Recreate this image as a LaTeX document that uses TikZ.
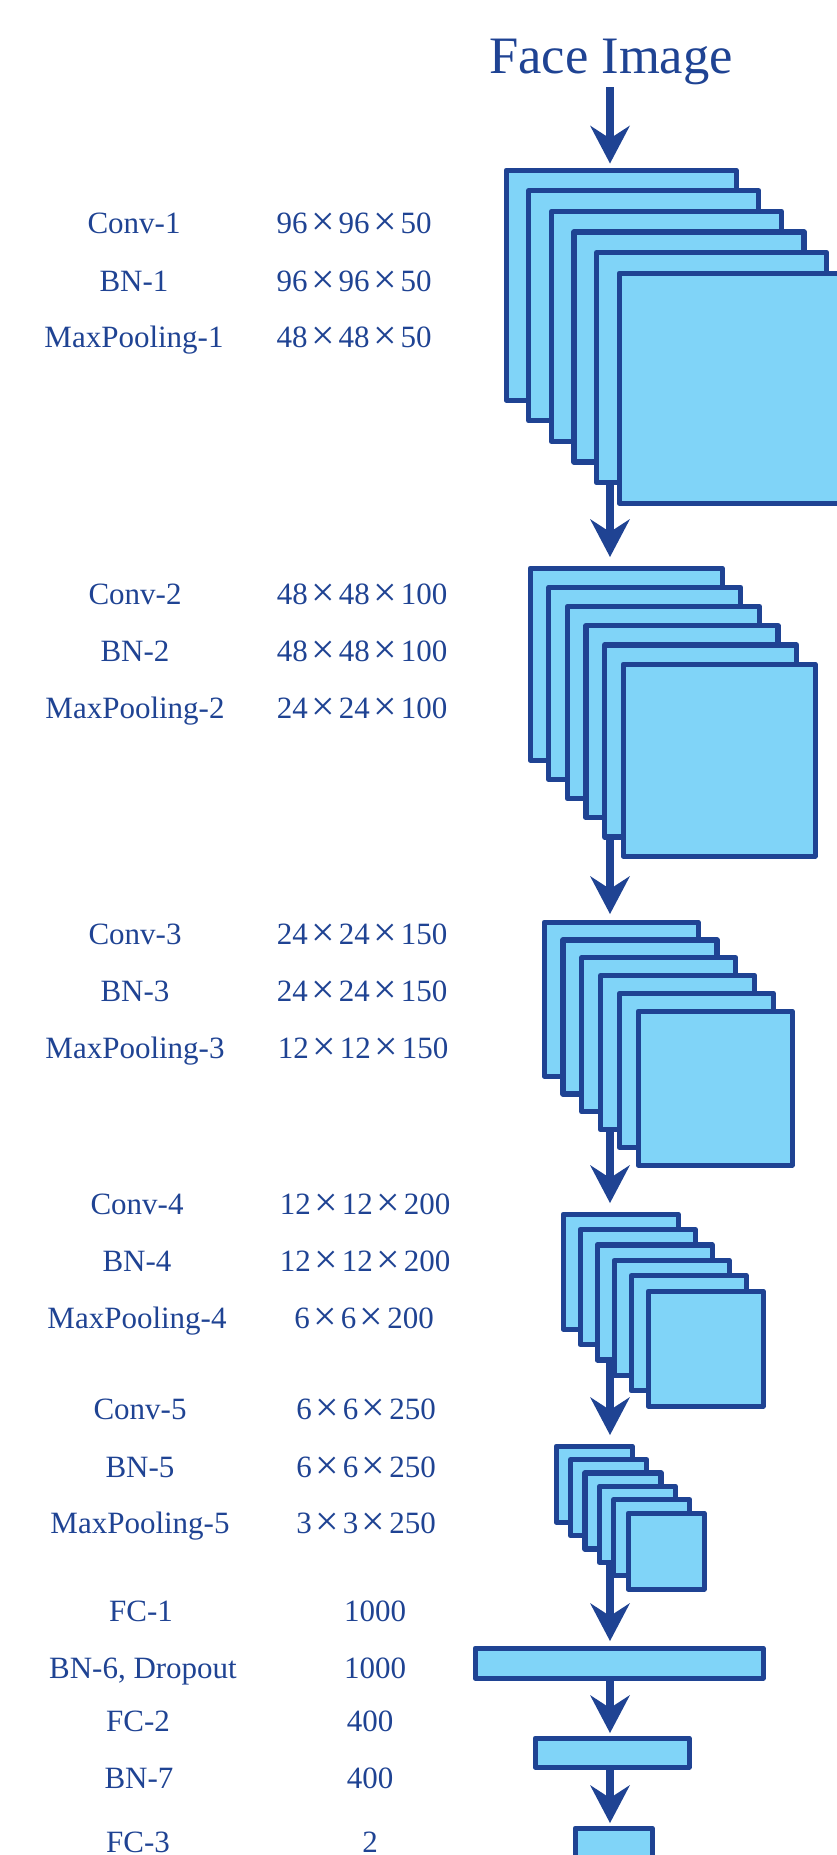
\documentclass[tikz,border=0pt]{standalone}
\usepackage{fontspec}
\usepackage{graphicx}
\setmainfont{Liberation Serif}
\usetikzlibrary{arrows.meta,backgrounds}
\definecolor{netblue}{RGB}{31,67,147}
\definecolor{mapfill}{RGB}{128,212,248}
% wide multiplication sign, centred on the digits, used in the tensor sizes
\newcommand{\crossx}{\makebox[1em]{\raisebox{0.09em}{$\vcenter{\hbox{\scalebox{1.35}{×}}}$}}}
\begin{document}
\begin{tikzpicture}[x=1pt,y=-1pt,
  fmap/.style={draw=netblue, fill=mapfill, line width=5.3pt, line join=round,
    inner sep=0pt, anchor=north west},
  lbl/.style={text=netblue, anchor=base, inner sep=0pt,
    font=\fontsize{31}{37}\selectfont},
  conn/.style={draw=netblue, line width=7.5pt,
    -{Stealth[length=38pt,width=40pt,inset=13pt,line width=0pt]}}]
\useasboundingbox (0,0) rectangle (837,1855);
\clip (0,0) rectangle (837,1855);

% title
\node[lbl, font=\fontsize{52.6}{60}\selectfont] (face) at (611,73) {Face Image};
\coordinate (spine) at (610,0);

% feature-map stacks
\foreach \i in {0,...,5}
  \node[fmap, minimum width=230pt, minimum height=230pt] (sA-\i)
    at ({503.5+22.6*\i},{167.5+20.6*\i}) {};
\foreach \i in {0,...,5}
  \node[fmap, minimum width=192pt, minimum height=192pt] (sB-\i)
    at ({527.5+18.6*\i},{565.5+19.2*\i}) {};
\foreach \i in {0,...,5}
  \node[fmap, minimum width=154pt, minimum height=154pt] (sC-\i)
    at ({541.5+18.8*\i},{919.5+17.8*\i}) {};
\foreach \i in {0,...,5}
  \node[fmap, minimum width=115pt, minimum height=115pt] (sD-\i)
    at ({560.5+17*\i},{1211.5+15.4*\i}) {};
\foreach \i in {0,...,5}
  \node[fmap, minimum width=76pt, minimum height=76pt] (sE-\i)
    at ({553.5+14.4*\i},{1443.5+13.4*\i}) {};

% fully connected layers
\node[fmap, minimum width=288pt, minimum height=30pt] (fc1) at (472.5,1645.5) {};
\node[fmap, minimum width=154pt, minimum height=29pt] (fc2) at (532.5,1735.5) {};
\node[fmap, minimum width=77pt, minimum height=40pt] (fc3) at (572.5,1825.5) {};

% data flow
\begin{scope}[on background layer]
  \draw[conn, shorten <=2.5pt, shorten >=4pt] (spine |- face.south) -- (spine |- sA-0.north);
  \draw[conn, shorten >=8.5pt] (spine |- sA-0.center) -- (spine |- sB-0.north);
  \draw[conn, shorten >=5.5pt] (spine |- sB-0.center) -- (spine |- sC-0.north);
  \draw[conn, shorten >=8.5pt] (spine |- sC-0.center) -- (spine |- sD-0.north);
  \draw[conn, shorten >=8.5pt] (spine |- sD-0.center) -- (spine |- sE-0.north);
  \draw[conn, shorten >=4.5pt] (spine |- sE-0.center) -- (spine |- fc1.north);
  \draw[conn, shorten >=2.5pt] (spine |- fc1.center) -- (spine |- fc2.north);
  \draw[conn, shorten >=2.5pt] (spine |- fc2.center) -- (spine |- fc3.north);
\end{scope}

% layer names and output sizes
\node[lbl] (n1a) at (134,233) {Conv-1};
\node[lbl] (n1b) at (134,291) {BN-1};
\node[lbl] (n1c) at (134,347) {MaxPooling-1};
\node[lbl] (d1a) at (354,233) {96\crossx 96\crossx 50};
\node[lbl] (d1b) at (354,291) {96\crossx 96\crossx 50};
\node[lbl] (d1c) at (354,347) {48\crossx 48\crossx 50};

\node[lbl] (n2a) at (135,604) {Conv-2};
\node[lbl] (n2b) at (135,661) {BN-2};
\node[lbl] (n2c) at (135,718) {MaxPooling-2};
\node[lbl] (d2a) at (362,604) {48\crossx 48\crossx 100};
\node[lbl] (d2b) at (362,661) {48\crossx 48\crossx 100};
\node[lbl] (d2c) at (362,718) {24\crossx 24\crossx 100};

\node[lbl] (n3a) at (135,944) {Conv-3};
\node[lbl] (n3b) at (135,1001) {BN-3};
\node[lbl] (n3c) at (135,1058) {MaxPooling-3};
\node[lbl] (d3a) at (362,944) {24\crossx 24\crossx 150};
\node[lbl] (d3b) at (362,1001) {24\crossx 24\crossx 150};
\node[lbl] (d3c) at (363,1058) {12\crossx 12\crossx 150};

\node[lbl] (n4a) at (137,1214) {Conv-4};
\node[lbl] (n4b) at (137,1271) {BN-4};
\node[lbl] (n4c) at (137,1328) {MaxPooling-4};
\node[lbl] (d4a) at (365,1214) {12\crossx 12\crossx 200};
\node[lbl] (d4b) at (365,1271) {12\crossx 12\crossx 200};
\node[lbl] (d4c) at (364,1328) {6\crossx 6\crossx 200};

\node[lbl] (n5a) at (140,1419) {Conv-5};
\node[lbl] (n5b) at (140,1477) {BN-5};
\node[lbl] (n5c) at (140,1533) {MaxPooling-5};
\node[lbl] (d5a) at (366,1419) {6\crossx 6\crossx 250};
\node[lbl] (d5b) at (366,1477) {6\crossx 6\crossx 250};
\node[lbl] (d5c) at (366,1533) {3\crossx 3\crossx 250};

\node[lbl] (n6a) at (141,1621) {FC-1};
\node[lbl] (n6b) at (143,1678) {BN-6, Dropout};
\node[lbl] (n6c) at (138,1731) {FC-2};
\node[lbl] (n6d) at (139,1788) {BN-7};
\node[lbl] (n6e) at (138,1852) {FC-3};
\node[lbl] (d6a) at (375,1621) {1000};
\node[lbl] (d6b) at (375,1678) {1000};
\node[lbl] (d6c) at (370,1731) {400};
\node[lbl] (d6d) at (370,1788) {400};
\node[lbl] (d6e) at (370,1852) {2};
\end{tikzpicture}
\end{document}
